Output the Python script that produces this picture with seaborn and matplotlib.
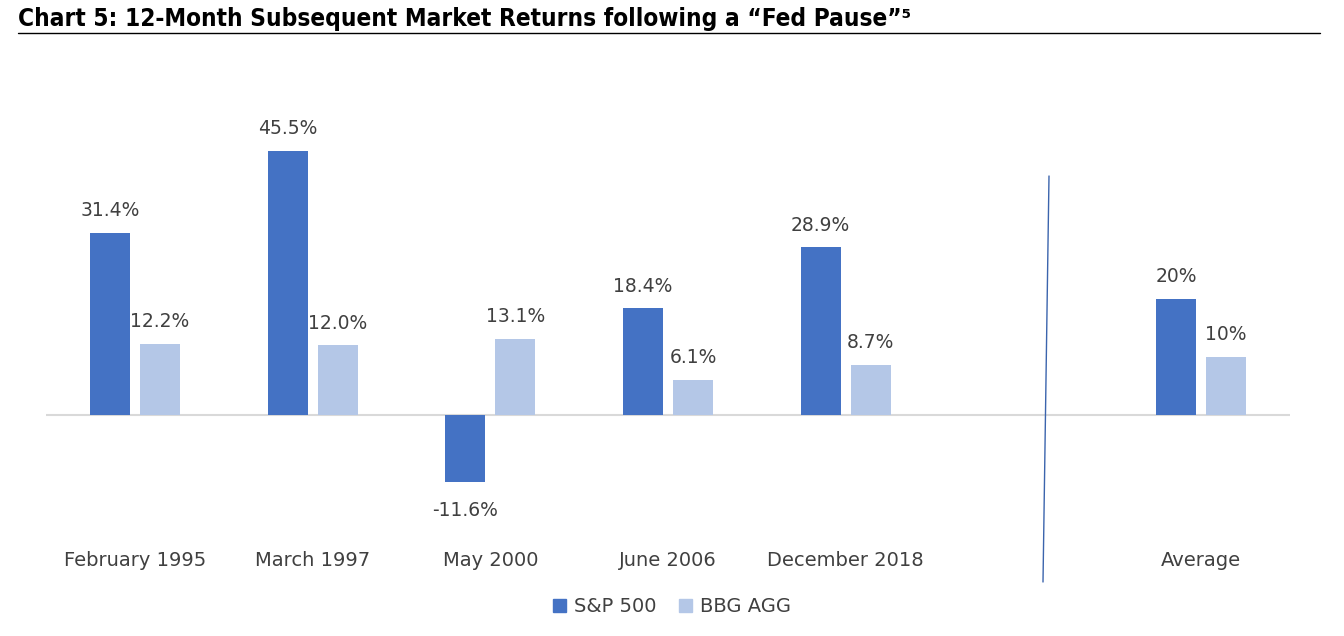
import numpy as np
import pandas as pd
import matplotlib
matplotlib.use("Agg")
import matplotlib.pyplot as plt
from matplotlib.lines import Line2D
import seaborn as sns

categories = ["February 1995", "March 1997", "May 2000", "June 2006", "December 2018", " ", "Average"]
sp500 = [31.4, 45.5, -11.6, 18.4, 28.9, np.nan, 20.0]
bbg_agg = [12.2, 12.0, 13.1, 6.1, 8.7, np.nan, 10.0]
series = ["S&P 500", "BBG AGG"]
decimals = [1, 1, 1, 1, 1, 0, 0]

colors = {"S&P 500": "#4472C4", "BBG AGG": "#B4C7E7"}
txt = "#404040"

df = pd.DataFrame({
    "category": categories * 2,
    "series": [series[0]] * len(categories) + [series[1]] * len(categories),
    "value": sp500 + bbg_agg,
})

sns.set_theme(style="white")
plt.rcParams["font.family"] = ["DejaVu Sans"]

W, H = 1344, 636
fig = plt.figure(figsize=(W / 100, H / 100), dpi=100)
ax_l, ax_r, ax_t, ax_b = 46, 1290, 60, 540
ax = fig.add_axes([ax_l / W, 1 - ax_b / H, (ax_r - ax_l) / W, (ax_b - ax_t) / H])

sns.barplot(data=df, x="category", y="value", hue="series", order=categories,
            hue_order=series, palette=colors, width=0.562, gap=0.2,
            saturation=1, ax=ax, legend=False, errorbar=None, linewidth=0,
            edgecolor="none")

ax.set_xlim(-0.5, len(categories) - 0.5)
ppu = 264 / 45.5
ax.set_ylim(-(ax_b - 415) / ppu, (415 - ax_t) / ppu)
ax.axhline(0, color="#D9D9D9", lw=1.5, zorder=0)
for s in ax.spines.values():
    s.set_visible(False)
ax.set_yticks([])
ax.set_xlabel("")
ax.set_ylabel("")
ax.tick_params(axis="x", length=0, pad=8, labelsize=14, labelcolor=txt)

# value labels
for cont, vals in zip(ax.containers, [sp500, bbg_agg]):
    for bar in cont:
        xc = bar.get_x() + bar.get_width() / 2
        i = int(round(xc))
        v = vals[i]
        if np.isnan(v):
            continue
        off = 16 if v >= 0 else -20
        ax.annotate(f"{v:.{decimals[i]}f}%", (xc, v), xytext=(0, off), textcoords="offset points",
                    ha="center", va="center", fontsize=13.5, color=txt)

# legend
handles = [plt.Rectangle((0, 0), 1, 1, color=colors[s]) for s in series]
fig.legend(handles, series, loc="center", bbox_to_anchor=(0.5, 1 - 607 / H),
           ncol=2, frameon=False, fontsize=14,
           handlelength=0.65, handleheight=0.65, handletextpad=0.4, columnspacing=1.2,
           labelcolor=txt)

# separator line between cases and average
fig.add_artist(Line2D([1049 / W, 1043 / W], [1 - 176 / H, 1 - 582 / H],
                      color="#3B64AD", lw=1))

# title and rule
fig.text(18 / W, 1 - 19 / H, "Chart 5: 12-Month Subsequent Market Returns following a \u201cFed Pause\u201d\u2075",
         fontsize=17.5, fontweight="bold", color="black", ha="left", va="center",
         fontstretch="condensed")
fig.add_artist(Line2D([18 / W, 1320 / W], [1 - 33 / H, 1 - 33 / H], color="black", lw=1))

fig.savefig("out.png", dpi=100)
